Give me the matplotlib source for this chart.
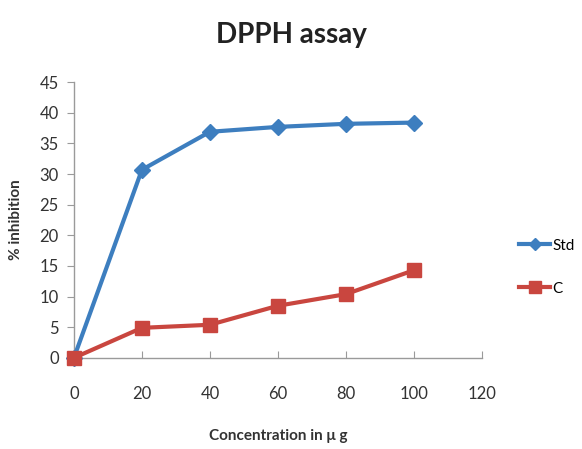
import matplotlib
matplotlib.use("Agg")
import matplotlib.pyplot as plt

conc = [0, 20, 40, 60, 80, 100]
std_vals = [0, 30.7, 36.9, 37.7, 38.2, 38.4]
c_vals = [0, 4.9, 5.4, 8.5, 10.4, 14.3]
xticks = [0, 20, 40, 60, 80, 100, 120]
yticks = [0, 5, 10, 15, 20, 25, 30, 35, 40, 45]

plt.rcParams['font.family'] = ['Lato', 'DejaVu Sans']

fig = plt.figure(figsize=(5.82, 4.49), dpi=100)
ax = fig.add_axes([0.127, 0.203, 0.701, 0.614])

blue = '#3D7EBF'
red = '#C9463F'
l1, = ax.plot(conc, std_vals, color=blue, lw=3, marker='D', markersize=8, label='Std', clip_on=False, zorder=3)
l2, = ax.plot(conc, c_vals, color=red, lw=3, marker='s', markersize=10, label='C', clip_on=False, zorder=4)

ax.set_xlim(0, 120)
ax.set_ylim(0, 45)
ax.set_xticks(xticks)
ax.set_yticks(yticks)
for s in ['top', 'right']:
    ax.spines[s].set_visible(False)
for s in ['left', 'bottom']:
    ax.spines[s].set_color('#9a9a9a')
    ax.spines[s].set_linewidth(1)
ax.tick_params(axis='y', direction='out', length=5, color='#9a9a9a', labelsize=12, labelcolor='#333333', pad=6)
ax.tick_params(axis='x', direction='in', length=5, color='#9a9a9a', labelsize=12, labelcolor='#333333', pad=20)

ax.set_ylabel('% inhibition', fontsize=11, fontweight='bold', color='#333333', labelpad=12)
ax.set_xlabel('Concentration in \u03bc g', fontsize=11, fontweight='bold', color='#333333', labelpad=20)
fig.text(0.5, 0.922, 'DPPH assay', ha='center', va='center', fontsize=20, fontweight='bold', color='#222222')

fig.legend(handles=[l1, l2], loc='center left', bbox_to_anchor=(0.882, 0.405), frameon=False,
           fontsize=11, handlelength=2.0, labelspacing=1.9, handletextpad=0.15, borderaxespad=0,
           markerscale=0.8)

fig.savefig('out.png', dpi=100)
